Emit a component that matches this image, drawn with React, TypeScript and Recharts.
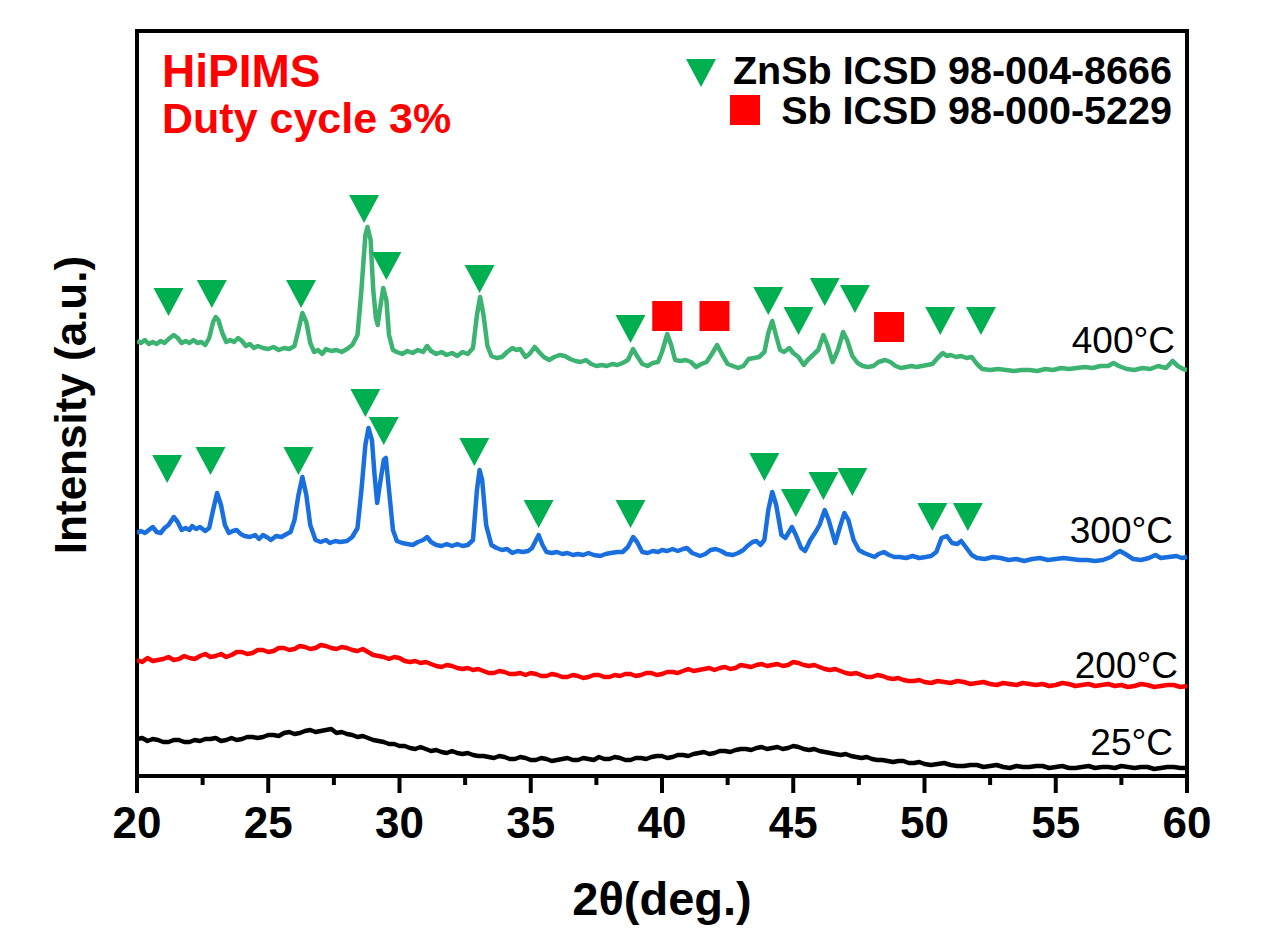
import { ComposedChart, Line, Scatter, XAxis, YAxis, ReferenceArea } from "recharts";

// 2θ tick values
const MAJOR_TICKS = [20, 25, 30, 35, 40, 45, 50, 55, 60];
const MINOR_TICKS = [22.5, 27.5, 32.5, 37.5, 42.5, 47.5, 52.5, 57.5];

// vertical offsets of the stacked patterns (a.u.)
const OFFSET_25 = 6;
const OFFSET_200 = 86;
const OFFSET_300 = 216;
const OFFSET_400 = 406;

// [2θ, intensity above offset]
const T400 = [
  [20.0, 29], [20.15, 27], [20.3, 30], [20.45, 26], [20.6, 28], [20.75, 26], [20.9, 29], [21.05, 27],
  [21.2, 31], [21.4, 35], [21.55, 32], [21.7, 27], [21.85, 29], [22.0, 27], [22.15, 30], [22.3, 27],
  [22.45, 28], [22.6, 25], [22.75, 32], [22.9, 48], [23.0, 53], [23.1, 50], [23.25, 37], [23.4, 28],
  [23.55, 30], [23.7, 28], [23.85, 32], [24.0, 29], [24.15, 24], [24.3, 26], [24.45, 22], [24.6, 24],
  [24.8, 22], [25.0, 21], [25.2, 23], [25.4, 20], [25.6, 22], [25.8, 21], [26.0, 24], [26.15, 40],
  [26.3, 57], [26.45, 48], [26.6, 27], [26.75, 18], [26.9, 20], [27.05, 16], [27.2, 21], [27.4, 19],
  [27.6, 20], [27.8, 18], [28.0, 21], [28.2, 25], [28.4, 35], [28.55, 80], [28.7, 135], [28.78, 143],
  [28.9, 130], [29.0, 80], [29.1, 52], [29.17, 45], [29.25, 60], [29.38, 82], [29.5, 70], [29.6, 35],
  [29.75, 20], [29.9, 18], [30.1, 16], [30.3, 19], [30.5, 17], [30.7, 20], [30.9, 18], [31.05, 24],
  [31.2, 19], [31.4, 16], [31.6, 18], [31.8, 15], [32.0, 17], [32.2, 14], [32.4, 18], [32.6, 16],
  [32.8, 22], [32.95, 55], [33.07, 73], [33.2, 55], [33.35, 24], [33.5, 14], [33.7, 12], [33.9, 13],
  [34.1, 18], [34.3, 22], [34.45, 20], [34.6, 21], [34.8, 13], [34.95, 16], [35.15, 23], [35.35, 17],
  [35.5, 13], [35.7, 10], [35.9, 13], [36.1, 15], [36.3, 14], [36.5, 11], [36.7, 9], [36.9, 8],
  [37.1, 10], [37.3, 6], [37.5, 4], [37.7, 5], [37.9, 4], [38.1, 6], [38.3, 5], [38.5, 7],
  [38.7, 10], [38.9, 21], [39.05, 14], [39.25, 6], [39.45, 4], [39.65, 7], [39.85, 8], [40.0, 18],
  [40.2, 36], [40.35, 25], [40.5, 10], [40.7, 9], [40.9, 10], [41.1, 8], [41.3, 3], [41.5, 6],
  [41.7, 8], [41.9, 16], [42.1, 25], [42.3, 15], [42.5, 6], [42.7, 4], [42.9, 2], [43.1, 4],
  [43.3, 11], [43.5, 12], [43.7, 13], [43.9, 18], [44.05, 37], [44.2, 49], [44.35, 34], [44.5, 20],
  [44.65, 18], [44.85, 22], [45.0, 17], [45.2, 13], [45.4, 5], [45.55, 10], [45.75, 15], [45.95, 20],
  [46.15, 35], [46.3, 25], [46.5, 8], [46.7, 20], [46.9, 38], [47.05, 30], [47.25, 14], [47.45, 7],
  [47.65, 4], [47.85, 3], [48.05, 4], [48.25, 8], [48.5, 10], [48.7, 8], [48.9, 4], [49.1, 2],
  [49.3, 3], [49.5, 4], [49.7, 3], [49.9, 4], [50.1, 5], [50.3, 6], [50.5, 12], [50.7, 17],
  [50.85, 14], [51.0, 15], [51.2, 13], [51.4, 14], [51.6, 12], [51.8, 13], [52.0, 6], [52.2, 1],
  [52.5, 0], [52.8, 1], [53.1, 0], [53.4, -1], [53.7, 0], [54.0, 0], [54.3, -1], [54.6, 1],
  [54.9, 0], [55.2, 2], [55.5, 1], [55.8, 2], [56.1, 3], [56.4, 2], [56.7, 4], [57.0, 4],
  [57.2, 7], [57.4, 4], [57.7, 1], [58.0, 0], [58.3, 2], [58.6, 1], [58.9, 4], [59.2, 2],
  [59.45, 9], [59.65, 4], [59.85, 1], [60.0, 0],
];

const T300 = [
  [20.0, 27], [20.15, 29], [20.3, 27], [20.45, 30], [20.6, 33], [20.75, 28], [20.9, 27], [21.05, 32],
  [21.2, 35], [21.4, 43], [21.55, 38], [21.7, 30], [21.85, 32], [22.0, 30], [22.1, 34], [22.25, 31],
  [22.4, 33], [22.6, 29], [22.75, 32], [22.9, 50], [23.05, 67], [23.2, 55], [23.35, 35], [23.5, 27],
  [23.65, 29], [23.8, 30], [23.95, 26], [24.1, 24], [24.3, 23], [24.5, 25], [24.65, 21], [24.8, 25],
  [25.0, 22], [25.1, 20], [25.3, 24], [25.5, 23], [25.7, 26], [25.85, 28], [26.0, 40], [26.15, 65],
  [26.3, 83], [26.45, 65], [26.6, 35], [26.8, 20], [27.0, 18], [27.2, 20], [27.35, 17], [27.55, 19],
  [27.75, 18], [28.0, 19], [28.2, 23], [28.4, 32], [28.55, 70], [28.7, 115], [28.82, 132], [28.95, 120],
  [29.05, 85], [29.15, 57], [29.25, 75], [29.4, 100], [29.48, 102], [29.6, 70], [29.75, 30], [29.9, 19],
  [30.1, 17], [30.3, 16], [30.5, 15], [30.7, 18], [30.9, 20], [31.05, 23], [31.2, 18], [31.4, 15],
  [31.6, 14], [31.8, 16], [32.0, 14], [32.2, 16], [32.4, 14], [32.6, 15], [32.8, 20], [32.95, 70],
  [33.05, 90], [33.15, 80], [33.3, 35], [33.5, 15], [33.7, 12], [33.9, 10], [34.1, 11], [34.3, 7],
  [34.5, 9], [34.7, 8], [34.9, 9], [35.05, 12], [35.3, 25], [35.45, 15], [35.6, 8], [35.8, 7],
  [36.0, 8], [36.2, 6], [36.4, 7], [36.6, 5], [36.8, 6], [37.0, 5], [37.2, 7], [37.4, 5],
  [37.65, 4], [37.85, 6], [38.05, 7], [38.3, 8], [38.5, 8], [38.7, 13], [38.9, 23], [39.05, 18],
  [39.25, 8], [39.45, 7], [39.65, 9], [39.85, 8], [40.0, 10], [40.2, 9], [40.4, 11], [40.6, 9],
  [40.8, 11], [40.95, 12], [41.15, 7], [41.45, 4], [41.65, 6], [41.85, 10], [42.05, 11], [42.25, 9],
  [42.45, 6], [42.7, 5], [42.9, 7], [43.1, 10], [43.25, 14], [43.45, 18], [43.6, 19], [43.75, 15],
  [43.9, 20], [44.05, 50], [44.2, 68], [44.35, 55], [44.55, 25], [44.7, 22], [44.95, 33], [45.1, 25],
  [45.3, 12], [45.45, 9], [45.65, 20], [45.85, 28], [46.0, 35], [46.2, 50], [46.35, 40], [46.6, 17],
  [46.8, 35], [46.95, 47], [47.1, 40], [47.3, 20], [47.5, 10], [47.7, 7], [47.9, 5], [48.1, 3],
  [48.25, 6], [48.45, 8], [48.65, 5], [48.85, 3], [49.05, 3], [49.3, 2], [49.55, 4], [49.8, 2],
  [50.05, 3], [50.25, 4], [50.45, 8], [50.65, 22], [50.85, 24], [51.05, 17], [51.25, 16], [51.4, 19],
  [51.6, 12], [51.8, 5], [52.0, 2], [52.3, 1], [52.6, 3], [52.9, 2], [53.2, 0], [53.5, 1],
  [53.8, -1], [54.1, 1], [54.4, 2], [54.7, 0], [55.0, 1], [55.3, 2], [55.6, 1], [55.9, 0],
  [56.2, 0], [56.5, -1], [56.8, 0], [57.1, 3], [57.3, 7], [57.45, 9], [57.65, 6], [57.95, 1],
  [58.25, 0], [58.55, 2], [58.8, 5], [59.0, 2], [59.3, 3], [59.6, 4], [59.8, 2], [60.0, 3],
];

const T200 = [
  [20.0, 30], [20.2, 28], [20.4, 32], [20.6, 29], [20.8, 30], [21.0, 31], [21.2, 33], [21.4, 30],
  [21.6, 31], [21.8, 34], [22.0, 32], [22.2, 31], [22.4, 34], [22.6, 36], [22.8, 33], [23.0, 34],
  [23.2, 36], [23.4, 33], [23.6, 35], [23.8, 38], [24.0, 38], [24.2, 36], [24.4, 37], [24.6, 40],
  [24.8, 40], [25.0, 38], [25.2, 39], [25.4, 42], [25.6, 42], [25.8, 40], [26.0, 41], [26.2, 44],
  [26.4, 43], [26.6, 41], [26.8, 42], [27.0, 45], [27.2, 44], [27.4, 42], [27.6, 41], [27.8, 43],
  [28.0, 42], [28.2, 40], [28.4, 39], [28.6, 41], [28.8, 38], [29.0, 35], [29.2, 34], [29.4, 33],
  [29.6, 31], [29.8, 33], [30.0, 32], [30.2, 29], [30.4, 28], [30.6, 29], [30.8, 27], [31.0, 28],
  [31.2, 26], [31.4, 24], [31.6, 23], [31.8, 25], [32.0, 24], [32.2, 22], [32.4, 21], [32.6, 22],
  [32.8, 20], [33.0, 21], [33.2, 19], [33.4, 17], [33.6, 17], [33.8, 19], [34.0, 18], [34.2, 16],
  [34.4, 16], [34.6, 17], [34.8, 15], [35.0, 17], [35.2, 16], [35.4, 14], [35.6, 14], [35.8, 16],
  [36.0, 15], [36.2, 13], [36.4, 13], [36.6, 15], [36.8, 14], [37.0, 12], [37.2, 13], [37.4, 15],
  [37.6, 15], [37.8, 13], [38.0, 13], [38.2, 15], [38.4, 14], [38.6, 16], [38.8, 16], [39.0, 14],
  [39.2, 15], [39.4, 17], [39.6, 17], [39.8, 15], [40.0, 16], [40.2, 18], [40.4, 18], [40.6, 17],
  [40.8, 19], [41.0, 21], [41.2, 19], [41.4, 20], [41.6, 21], [41.8, 22], [42.0, 20], [42.2, 22],
  [42.4, 23], [42.6, 21], [42.8, 22], [43.0, 25], [43.2, 24], [43.4, 23], [43.6, 25], [43.8, 26],
  [44.0, 24], [44.2, 25], [44.4, 26], [44.6, 24], [44.8, 25], [45.0, 28], [45.2, 27], [45.4, 25],
  [45.6, 24], [45.8, 25], [46.0, 23], [46.2, 21], [46.4, 20], [46.6, 21], [46.8, 19], [47.0, 17],
  [47.2, 16], [47.4, 17], [47.6, 15], [47.8, 13], [48.0, 13], [48.2, 15], [48.4, 14], [48.6, 12],
  [48.8, 11], [49.0, 12], [49.2, 10], [49.4, 9], [49.6, 9], [49.8, 10], [50.0, 8], [50.25, 7],
  [50.5, 9], [50.75, 8], [51.0, 7], [51.25, 9], [51.5, 8], [51.75, 6], [52.0, 7], [52.25, 8],
  [52.5, 6], [52.75, 5], [53.0, 7], [53.25, 6], [53.5, 5], [53.75, 7], [54.0, 6], [54.25, 5],
  [54.5, 6], [54.75, 4], [55.0, 5], [55.25, 7], [55.5, 6], [55.75, 4], [56.0, 5], [56.25, 6],
  [56.5, 4], [56.75, 5], [57.0, 6], [57.25, 4], [57.5, 5], [57.75, 3], [58.0, 4], [58.25, 6],
  [58.5, 5], [58.75, 3], [59.0, 4], [59.25, 5], [59.5, 5], [59.75, 3], [60.0, 4],
];

const T25 = [
  [20.0, 31], [20.2, 32], [20.4, 29], [20.6, 31], [20.8, 30], [21.0, 28], [21.2, 28], [21.4, 30],
  [21.6, 30], [21.8, 28], [22.0, 28], [22.2, 30], [22.4, 29], [22.6, 31], [22.8, 31], [23.0, 32],
  [23.2, 29], [23.4, 30], [23.6, 32], [23.8, 30], [24.0, 31], [24.2, 33], [24.4, 33], [24.6, 32],
  [24.8, 33], [25.0, 35], [25.2, 35], [25.4, 34], [25.6, 37], [25.8, 38], [26.0, 36], [26.2, 37],
  [26.4, 39], [26.6, 40], [26.8, 38], [27.0, 39], [27.2, 40], [27.4, 41], [27.6, 37], [27.8, 38],
  [28.0, 36], [28.2, 35], [28.4, 33], [28.6, 34], [28.8, 32], [29.0, 30], [29.2, 29], [29.4, 28],
  [29.6, 26], [29.8, 26], [30.0, 24], [30.2, 24], [30.4, 22], [30.6, 21], [30.8, 23], [31.0, 21],
  [31.2, 19], [31.4, 20], [31.6, 18], [31.8, 17], [32.0, 19], [32.2, 17], [32.4, 16], [32.6, 17],
  [32.8, 15], [33.0, 14], [33.2, 14], [33.4, 13], [33.6, 12], [33.8, 14], [34.0, 13], [34.2, 11],
  [34.4, 11], [34.6, 13], [34.8, 12], [35.0, 10], [35.2, 10], [35.4, 12], [35.6, 11], [35.8, 9],
  [36.0, 10], [36.2, 11], [36.4, 12], [36.6, 10], [36.8, 10], [37.0, 12], [37.2, 11], [37.4, 10],
  [37.6, 13], [37.8, 11], [38.0, 11], [38.2, 13], [38.4, 12], [38.6, 10], [38.8, 10], [39.0, 12],
  [39.2, 12], [39.4, 11], [39.6, 13], [39.8, 14], [40.0, 14], [40.2, 12], [40.4, 13], [40.6, 15],
  [40.8, 15], [41.0, 14], [41.2, 16], [41.4, 17], [41.6, 18], [41.8, 16], [42.0, 17], [42.2, 19],
  [42.4, 19], [42.6, 18], [42.8, 20], [43.0, 21], [43.2, 21], [43.4, 20], [43.6, 22], [43.8, 23],
  [44.0, 21], [44.2, 22], [44.4, 23], [44.6, 21], [44.8, 22], [45.0, 24], [45.2, 23], [45.4, 21],
  [45.6, 20], [45.8, 21], [46.0, 19], [46.2, 18], [46.4, 17], [46.6, 16], [46.8, 15], [47.0, 16],
  [47.2, 14], [47.4, 13], [47.6, 12], [47.8, 13], [48.0, 11], [48.2, 10], [48.4, 10], [48.6, 9],
  [48.8, 8], [49.0, 9], [49.2, 9], [49.4, 7], [49.6, 7], [49.8, 8], [50.0, 6], [50.25, 5],
  [50.5, 6], [50.75, 7], [51.0, 5], [51.25, 4], [51.5, 4], [51.75, 5], [52.0, 5], [52.25, 3],
  [52.5, 4], [52.75, 5], [53.0, 3], [53.25, 2], [53.5, 4], [53.75, 3], [54.0, 3], [54.25, 4],
  [54.5, 4], [54.75, 2], [55.0, 3], [55.25, 4], [55.5, 2], [55.75, 2], [56.0, 3], [56.25, 4],
  [56.5, 2], [56.75, 3], [57.0, 3], [57.25, 2], [57.5, 4], [57.75, 3], [58.0, 2], [58.25, 3],
  [58.5, 3], [58.75, 1], [59.0, 2], [59.25, 3], [59.5, 3], [59.75, 2], [60.0, 2],
];

// reflection markers [2θ, height]
const ZNSB_400 = [
  [21.2, 474], [22.85, 482], [26.25, 482], [28.65, 567], [29.5, 510], [33.05, 497], [38.8, 447],
  [44.05, 475], [45.2, 455], [46.2, 484], [47.35, 477], [50.6, 455], [52.15, 455],
];
const SB_400 = [[40.2, 460], [42.0, 460], [48.65, 449]];
const ZNSB_300 = [
  [21.15, 307], [22.8, 315], [26.15, 315], [28.7, 373], [29.4, 345], [32.85, 324], [35.3, 262],
  [38.8, 262], [43.9, 309], [45.1, 273], [46.15, 290], [47.25, 294], [50.3, 259], [51.65, 259],
];

const toRows = (pts: number[][], off: number) => pts.map(([x, v]) => ({ x, y: off + v }));
const toMarks = (pts: number[][]) => pts.map(([x, y]) => ({ x, y }));

const GREEN = "#3cb371";
const BLUE = "#1a6fdf";
const MARK_GREEN = "#00b050";
const FONT = "'Liberation Sans', Arial, sans-serif";

const Tri = (p: any) => (
  <polygon
    points={`${p.cx - 15},${p.cy - 14} ${p.cx + 15},${p.cy - 14} ${p.cx},${p.cy + 14}`}
    fill={MARK_GREEN}
  />
);
const Sq = (p: any) => <rect x={p.cx - 15} y={p.cy - 15} width={30} height={30} fill="#ff0000" />;

const XTick = (p: any) => {
  const v = p.payload.value;
  const major = MAJOR_TICKS.includes(v);
  return (
    <g>
      <line x1={p.x} x2={p.x} y1={p.y} y2={p.y + (major ? 17 : 9)} stroke="#000" strokeWidth={4} />
      {major && (
        <text x={p.x} y={p.y + 62} textAnchor="middle" fontFamily={FONT} fontWeight="bold" fontSize={44} fill="#000">
          {v}
        </text>
      )}
    </g>
  );
};

export default function App() {
  const allTicks = [...MAJOR_TICKS, ...MINOR_TICKS].sort((a, b) => a - b);
  const series = [
    { key: "25", data: toRows(T25, OFFSET_25), color: "#000000" },
    { key: "200", data: toRows(T200, OFFSET_200), color: "#ff0000" },
    { key: "300", data: toRows(T300, OFFSET_300), color: BLUE },
    { key: "400", data: toRows(T400, OFFSET_400), color: GREEN },
  ];
  const tempLabels = [
    { t: "400°C", x: 1175, y: 353 },
    { t: "300°C", x: 1173, y: 543 },
    { t: "200°C", x: 1178, y: 678 },
    { t: "25°C", x: 1173, y: 755 },
  ];

  return (
    <div style={{ position: "absolute", left: 0, top: 0, width: 1263, height: 948, background: "#fff" }}>
      <ComposedChart width={1263} height={948} margin={{ top: 31, right: 76, bottom: 0, left: 137 }}>
        <XAxis
          dataKey="x"
          type="number"
          domain={[20, 60]}
          allowDataOverflow
          ticks={allTicks}
          interval={0}
          tickLine={false}
          tickSize={0}
          tickMargin={0}
          tick={<XTick />}
          axisLine={{ stroke: "#000", strokeWidth: 4 }}
          height={172}
        />
        <YAxis type="number" domain={[0, 745]} allowDataOverflow hide />
        <ReferenceArea x1={20} x2={60} y1={0} y2={745} fill="none" stroke="#000" strokeWidth={4} ifOverflow="visible" />
        {series.map((s) => (
          <Line
            key={s.key}
            data={s.data}
            dataKey="y"
            type="linear"
            stroke={s.color}
            strokeWidth={4.5}
            strokeLinejoin="round"
            dot={false}
            isAnimationActive={false}
          />
        ))}
        <Scatter data={toMarks(ZNSB_400)} dataKey="y" shape={<Tri />} isAnimationActive={false} />
        <Scatter data={toMarks(SB_400)} dataKey="y" shape={<Sq />} isAnimationActive={false} />
        <Scatter data={toMarks(ZNSB_300)} dataKey="y" shape={<Tri />} isAnimationActive={false} />
      </ComposedChart>

      <svg width={1263} height={948} style={{ position: "absolute", left: 0, top: 0, pointerEvents: "none" }}>
        <g fontFamily={FONT} fontWeight="bold">
          <text x={162} y={87} fontSize={46} fill="#ff0000">HiPIMS</text>
          <text x={162} y={133} fontSize={43} fill="#ff0000">Duty cycle 3%</text>
          <polygon points="686,59 716,59 701,87" fill={MARK_GREEN} />
          <text x={1172} y={84} fontSize={39.5} textAnchor="end" fill="#000">ZnSb ICSD 98-004-8666</text>
          <rect x={730} y={95} width={30} height={30} fill="#ff0000" />
          <text x={1172} y={124} fontSize={39.5} textAnchor="end" fill="#000">Sb ICSD 98-000-5229</text>
          <text transform="translate(86,405) rotate(-90)" fontSize={44} textAnchor="middle" fill="#000">
            Intensity (a.u.)
          </text>
          <text x={662} y={915} fontSize={47} textAnchor="middle" fill="#000">2θ(deg.)</text>
        </g>
        <g fontFamily={FONT}>
          {tempLabels.map((l) => (
            <text key={l.t} x={l.x} y={l.y} fontSize={37} textAnchor="end" fill="#000">{l.t}</text>
          ))}
        </g>
      </svg>
    </div>
  );
}
